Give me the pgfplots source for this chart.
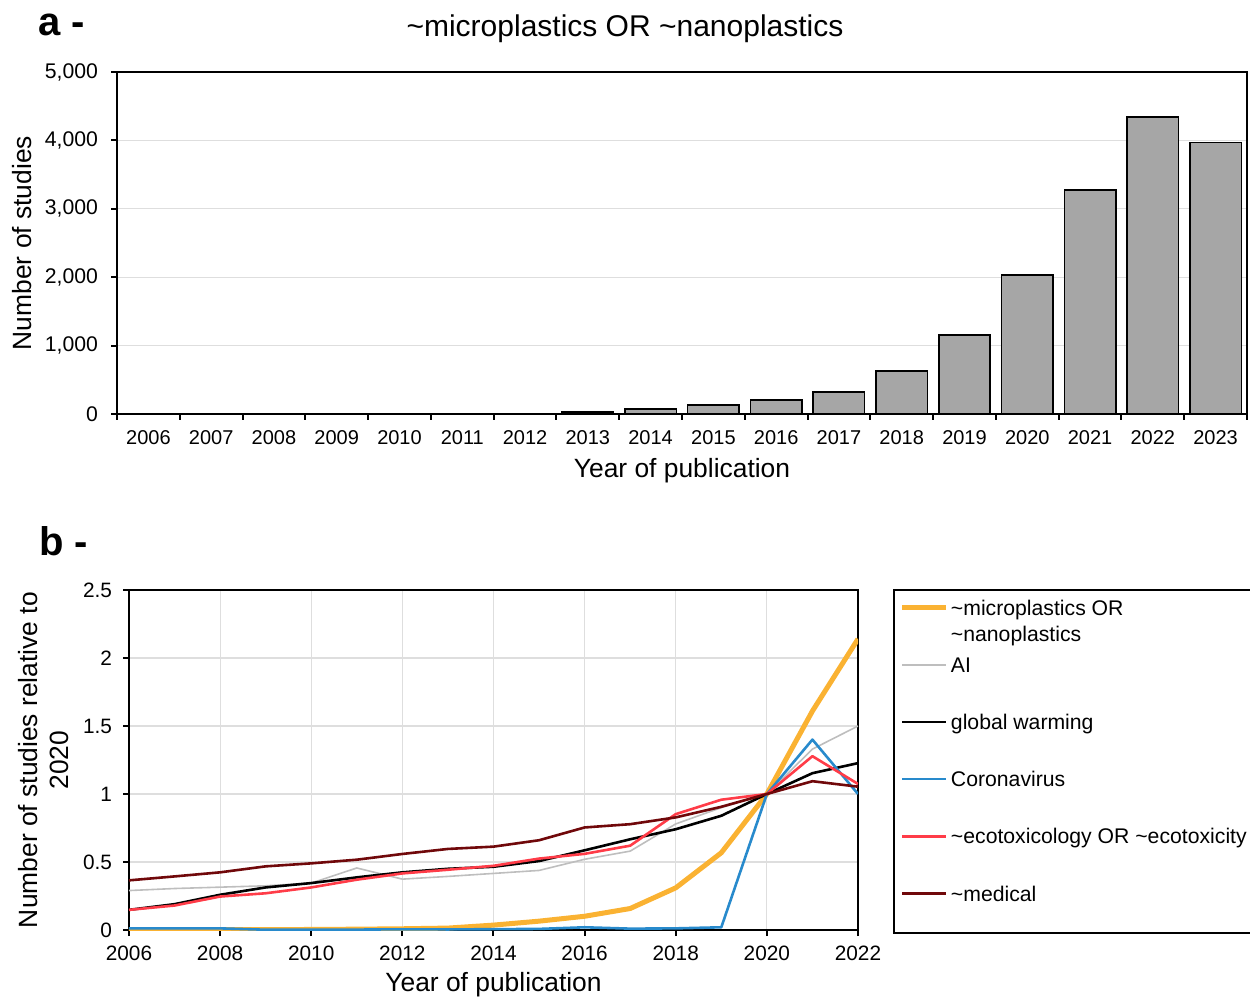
\documentclass[border=0pt]{standalone}
\usepackage{fontspec}
\setmainfont{Liberation Sans}
\usepackage{pgfplots}
\usepackage{pgfplotstable}
\pgfplotsset{compat=1.18}

\definecolor{barg}{RGB}{166,166,166}
\definecolor{gridc}{RGB}{222,222,222}
\definecolor{cOrange}{RGB}{250,178,50}
\definecolor{cGray}{RGB}{190,190,190}
\definecolor{cBlue}{RGB}{40,138,204}
\definecolor{cRed}{RGB}{255,60,72}
\definecolor{cMaroon}{RGB}{112,8,10}

% panel a: studies per year (index 0 = 2006)
\pgfplotstableread{
idx n
0 0
1 0
2 1
3 1
4 2
5 3
6 4
7 29
8 74
9 132
10 205
11 322
12 629
13 1155
14 2032
15 3275
16 4345
17 3972
}\countdata

% panel b: relative to 2020
\pgfplotstableread{
year micro ai gw corona eco med
2006 0.001 0.290 0.148 0.012 0.148 0.365
2007 0.001 0.305 0.190 0.012 0.180 0.394
2008 0.002 0.315 0.259 0.012 0.246 0.424
2009 0.002 0.325 0.313 0.002 0.270 0.468
2010 0.004 0.345 0.345 0.002 0.313 0.490
2011 0.006 0.456 0.387 0.003 0.370 0.517
2012 0.009 0.374 0.424 0.005 0.416 0.559
2013 0.014 0.394 0.450 0.004 0.443 0.596
2014 0.036 0.416 0.465 0.006 0.472 0.613
2015 0.065 0.438 0.507 0.008 0.525 0.660
2016 0.101 0.520 0.586 0.020 0.560 0.754
2017 0.158 0.580 0.667 0.010 0.620 0.778
2018 0.310 0.780 0.741 0.012 0.852 0.828
2019 0.568 0.900 0.840 0.020 0.958 0.906
2020 1.000 1.000 1.000 1.000 1.000 1.000
2021 1.610 1.330 1.153 1.400 1.278 1.094
2022 2.140 1.500 1.227 1.000 1.074 1.054
}\reldata

\pgfplotsset{
  myax/.style={
    scale only axis,
    axis line style={line width=1pt},
    tick align=outside,
    tick pos=left,
    tick style={black, line width=1pt},
    major tick length=3pt,
    minor tick length=3pt,
    tick label style={font=\fontsize{10}{12}\selectfont},
    label style={font=\fontsize{13.2}{15.5}\selectfont},
    grid style={gridc, line width=0.6pt},
    /pgf/number format/assume math mode=true,
  }
}

\begin{document}
\begin{tikzpicture}
\path[use as bounding box] (0,0) rectangle (625pt,499pt);

\node[anchor=base west, font=\fontsize{20}{24}\selectfont\bfseries] at (15.5pt,481pt) {a -};
\node[anchor=base, font=\fontsize{15}{18}\selectfont] at (312.5pt,480.5pt)
  {\textasciitilde microplastics OR \textasciitilde nanoplastics};
\node[anchor=base west, font=\fontsize{20}{24}\selectfont\bfseries] at (16pt,221pt) {b -};

\begin{axis}[myax,
  at={(58.5pt,292pt)}, anchor=south west,
  width=565pt, height=171pt,
  xmin=-0.5, xmax=17.5, ymin=0, ymax=5000,
  xtick={-0.5,0.5,...,17.5},
  x tick label as interval,
  xticklabels={2006,2007,2008,2009,2010,2011,2012,2013,2014,2015,2016,2017,2018,2019,2020,2021,2022,2023},
  xticklabel style={yshift=-1.5pt},
  ytick={0,1000,...,5000},
  yticklabel style={/pgf/number format/1000 sep={,}, xshift=-3pt, font=\fontsize{10.6}{12}\selectfont},
  ymajorgrids,
  ylabel={Number of studies},
  ylabel style={at={(axis description cs:-0.084,0.5)}, anchor=center},
  xlabel={Year of publication},
  xlabel style={at={(axis description cs:0.5,-0.167)}, anchor=center},
]
\addplot[ybar, bar width=0.82, fill=barg, draw=black, line width=0.75pt]
  table[x=idx, y=n] {\countdata};
\end{axis}

\begin{axis}[myax,
  at={(64.5pt,34pt)}, anchor=south west,
  width=364.5pt, height=170pt,
  xmin=2006, xmax=2022, ymin=0, ymax=2.5,
  xtick={2006,2008,...,2022},
  ytick={0,0.5,...,2.5},
  tick label style={font=\fontsize{10.4}{12}\selectfont},
  xticklabel style={/pgf/number format/1000 sep={}, yshift=-1.5pt},
  yticklabel style={xshift=-2pt},
  grid=major,
  ylabel={Number of studies relative to\\2020},
  ylabel style={at={(axis description cs:-0.117,0.5)}, anchor=center, align=center},
  xlabel={Year of publication},
  xlabel style={at={(axis description cs:0.5,-0.162)}, anchor=center},
  legend cell align=left,
  legend image code/.code={\draw[#1] (0pt,5.5pt) -- (21.7pt,5.5pt);},
  legend style={at={(axis description cs:1.048,1.003)}, anchor=north west,
    draw=black, line width=1pt, fill=white,
    inner xsep=3pt, inner ysep=0pt, row sep=0pt,
    font=\fontsize{10.6}{13}\selectfont,
    nodes={inner xsep=1.3pt, inner ysep=0pt, text height=12.6pt, text depth=16pt}},
]
\addplot[cOrange, line width=2.5pt, line join=round] table[x=year, y=micro] {\reldata};
\addlegendentry{\begin{tabular}[t]{@{}l@{}}\textasciitilde microplastics OR\\\textasciitilde nanoplastics\end{tabular}}
\addplot[cGray, line width=0.8pt, line join=round] table[x=year, y=ai] {\reldata};
\addlegendentry{AI}
\addplot[black, line width=1.3pt, line join=round] table[x=year, y=gw] {\reldata};
\addlegendentry{global warming}
\addplot[cBlue, line width=1.3pt, line join=round] table[x=year, y=corona] {\reldata};
\addlegendentry{Coronavirus}
\addplot[cRed, line width=1.3pt, line join=round] table[x=year, y=eco] {\reldata};
\addlegendentry{\textasciitilde ecotoxicology OR \textasciitilde ecotoxicity}
\addplot[cMaroon, line width=1.3pt, line join=round] table[x=year, y=med] {\reldata};
\addlegendentry{\textasciitilde medical}
\end{axis}
\end{tikzpicture}
\end{document}
